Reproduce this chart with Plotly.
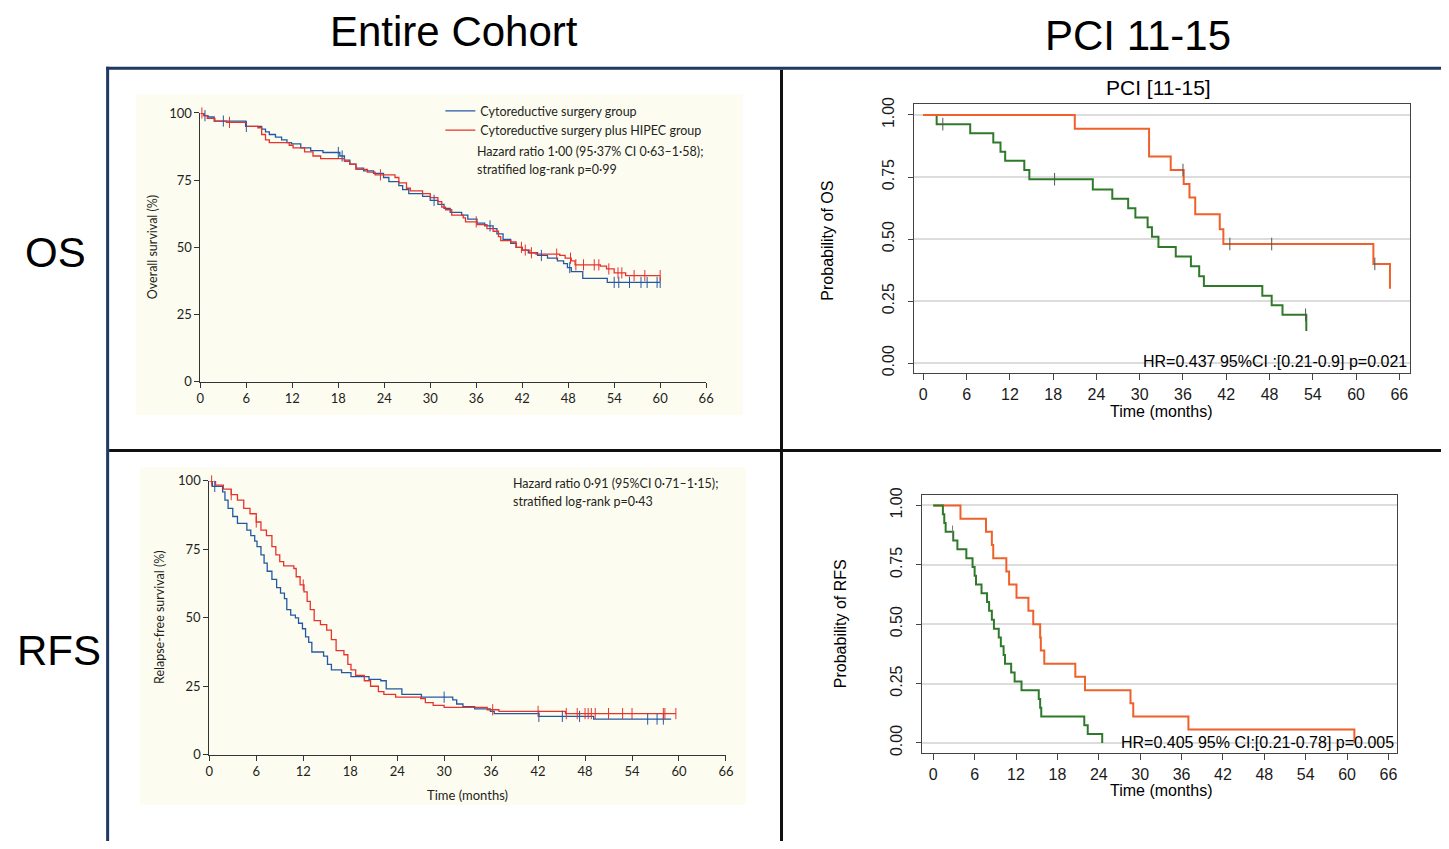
import bisect
import plotly.graph_objects as go

W, H = 1449, 849


def px(x):
    return x / W


def py(y):
    return 1 - y / H


# ---------------- DATA ----------------
months_ticks = [0, 6, 12, 18, 24, 30, 36, 42, 48, 54, 60, 66]
pct_ticks = [0, 25, 50, 75, 100]
prob_ticks = [0, 0.25, 0.5, 0.75, 1.0]
prob_tick_text = ["0.00", "0.25", "0.50", "0.75", "1.00"]

# Entire cohort - overall survival (%)
os_crs_t = [0, 0.5, 1.0, 1.8, 5.9, 8.0, 8.5, 9.0, 9.8, 10.6, 11.3, 11.9, 13.1, 14.4, 16.0, 18.2, 18.8,
            19.5, 20.3, 21.3, 22.6, 23.9, 24.6, 25.9, 26.4, 27.2, 29.0, 30.0, 31.0, 31.8, 32.6, 34.1,
            34.9, 36.1, 37.1, 38.2, 38.7, 39.5, 40.5, 41.2, 42.0, 42.8, 44.0, 45.3, 46.6, 47.4, 47.9,
            48.4, 49.9, 53.1, 60.0]
os_crs_s = [100, 99, 98.5, 97, 95, 94, 93, 92, 91, 90, 89, 88.5, 87, 86, 85.3, 84, 82.5,
            81, 79.5, 78.5, 77.5, 76, 74.5, 73, 71.5, 70, 69, 67.5, 66, 64.5, 63, 62,
            60.5, 59, 58, 57, 55, 53, 51.5, 50, 49, 48, 47, 46, 45, 44, 42.5,
            41, 38.5, 37, 37]
os_crs_cens = [0.6, 3.0, 6.0, 18.0, 18.5, 30.5, 37.8, 44.5, 48.2, 54.0, 54.6, 56.0, 57.5, 58.3, 59.6, 60.0]

os_hipec_t = [0, 0.4, 0.9, 1.9, 3.4, 6.0, 7.5, 8.0, 8.5, 9.0, 11.6, 12.1, 13.6, 14.7, 15.7, 18.8,
              19.5, 20.3, 21.8, 22.8, 25.4, 25.9, 26.9, 27.4, 29.0, 30.0, 31.0, 31.5, 32.0, 32.8,
              34.3, 34.6, 36.1, 37.4, 38.2, 38.9, 39.2, 40.5, 41.2, 42.0, 43.0, 43.8, 46.9, 47.6,
              48.4, 48.9, 52.2, 53.0, 54.0, 55.5, 60.0]
os_hipec_s = [100, 99, 98, 97, 96.5, 95, 94.5, 92, 90, 89, 88, 87, 85.5, 84, 83, 82,
              81, 79, 78, 77, 76, 74, 72, 71, 70, 68.5, 67, 65, 64, 62,
              61, 59.5, 58.5, 57, 56, 54, 52.5, 52, 50, 49, 48, 47.5, 47, 46,
              45, 43.5, 43, 42, 40.5, 39.5, 39.5]
os_hipec_cens = [0.2, 3.8, 23.5, 36.0, 41.9, 42.4, 43.2, 46.5, 48.3, 49.0, 50.0, 51.4, 52.0, 53.3,
                 54.5, 55.0, 56.6, 58.0, 60.0]

# Entire cohort - relapse-free survival (%)
rfs_crs_t = [0, 0.4, 1.7, 2.0, 2.4, 3.0, 3.6, 4.8, 5.3, 5.8, 6.1, 6.6, 7.0, 7.4, 8.0, 8.6, 9.1,
             9.6, 9.9, 10.4, 11.0, 11.4, 11.9, 12.3, 12.7, 13.1, 14.6, 15.1, 15.6, 16.9, 18.1, 20.4,
             21.9, 22.6, 24.6, 27.1, 31.1, 31.6, 32.4, 33.9, 35.9, 36.4, 42.1, 49.1, 59.0]
rfs_crs_s = [100, 98, 96, 93, 90, 87, 84.5, 82, 80, 78, 76, 73, 70, 67, 64, 61, 59,
             57, 53, 51, 50, 48, 46, 43, 41, 37.5, 36, 33, 31, 30, 28.5, 27.5,
             27, 24, 22, 21, 20, 18.5, 17.5, 16.7, 15.8, 15, 14, 13, 13]
rfs_crs_cens = [0.7, 30.0, 42.1, 45.1, 47.3, 56.0, 57.2, 58.0]

rfs_hipec_t = [0, 0.8, 1.8, 2.8, 3.6, 4.4, 5.2, 6.0, 6.6, 7.3, 8.0, 8.5, 9.0, 9.5, 10.8, 11.1,
               11.6, 12.1, 12.5, 12.9, 13.4, 14.2, 15.0, 15.6, 16.2, 17.2, 17.7, 18.1, 18.7, 19.8,
               20.6, 21.6, 22.3, 23.8, 27.0, 27.6, 28.6, 30.0, 35.5, 37.0, 45.5, 59.6]
rfs_hipec_s = [100, 98.5, 97, 95, 93, 90, 88, 85, 82, 80, 76, 73, 70.5, 69, 68, 65,
               62, 59.5, 56, 53, 49, 47.5, 45.5, 42, 38, 36.5, 33, 31, 29, 27,
               25, 23, 22, 21, 20.5, 19, 18, 17.3, 16.4, 15.8, 15, 15]
rfs_hipec_cens = [0.3, 2.8, 6.0, 12.0, 36.2, 42.0, 45.6, 47.0, 48.0, 48.4, 48.8, 49.3, 51.0, 52.8,
                  54.0, 58.0, 58.2, 59.6]

# PCI 11-15 - probability of OS
pci_os_green_t = [0, 1.85, 6.5, 9.7, 10.7, 11.35, 14.0, 14.7, 23.5, 26.2, 28.4, 29.4, 31.1, 31.7,
                  32.6, 35.0, 37.1, 38.25, 38.9, 47.0, 48.3, 49.8, 53.1]
pci_os_green_s = [1.0, 0.963, 0.926, 0.889, 0.852, 0.815, 0.778, 0.741, 0.70, 0.662, 0.624, 0.587,
                  0.548, 0.509, 0.468, 0.43, 0.39, 0.35, 0.311, 0.272, 0.233, 0.195, 0.13]
pci_os_green_cens = [2.7, 18.2, 53.0]

pci_os_orange_t = [0, 21.0, 31.3, 34.3, 36.1, 36.9, 37.7, 41.1, 41.6, 62.4, 64.7]
pci_os_orange_s = [1.0, 0.944, 0.833, 0.778, 0.722, 0.667, 0.60, 0.54, 0.48, 0.40, 0.30]
pci_os_orange_cens = [36.0, 42.5, 48.3, 62.6]

# PCI 11-15 - probability of RFS
pci_rfs_green_t = [0, 1.4, 1.6, 1.8, 2.9, 3.5, 4.8, 5.7, 6.0, 6.2, 7.0, 7.8, 8.1, 8.5, 8.8, 9.5,
                   9.8, 10.2, 10.4, 11.3, 11.8, 12.8, 15.3, 15.5, 15.66, 21.9, 22.4, 24.5]
pci_rfs_green_s = [1.0, 0.963, 0.926, 0.889, 0.852, 0.815, 0.778, 0.741, 0.704, 0.667, 0.630, 0.593,
                   0.556, 0.519, 0.481, 0.444, 0.407, 0.370, 0.333, 0.296, 0.259, 0.222, 0.185,
                   0.148, 0.111, 0.074, 0.037, 0.0]
pci_rfs_green_cens = [2.8]

pci_rfs_orange_t = [0, 3.95, 7.65, 8.5, 8.7, 10.6, 11.0, 12.07, 13.8, 14.5, 15.5, 15.6, 16.1, 20.6,
                    22.0, 28.6, 29.0, 37.0, 61.06]
pci_rfs_orange_s = [1.0, 0.944, 0.889, 0.833, 0.778, 0.722, 0.667, 0.611, 0.556, 0.5, 0.444, 0.389,
                    0.333, 0.278, 0.222, 0.167, 0.111, 0.056, 0.0]

# ---------------- STYLE ----------------
BLUE = "#2359a3"
RED = "#e8322c"
GREEN = "#2f7a2a"
ORANGE = "#f0602a"
NAVY = "#203864"
CREAM = "#fdfcf1"
LANCET = "Lato, 'Liberation Sans', sans-serif"
RFONT = "'Liberation Sans', Arial, Helvetica, sans-serif"
TXT = "#231f20"


def step_at(ts, ss, t):
    i = bisect.bisect_right(ts, t) - 1
    return ss[max(i, 0)]


fig = go.Figure()


def km(ts, ss, color, width, xa, ya, name=None, legend=False):
    fig.add_trace(go.Scatter(x=ts, y=ss, mode="lines", line_shape="hv",
                             line=dict(color=color, width=width), xaxis=xa, yaxis=ya,
                             name=name, showlegend=legend, hoverinfo="skip"))


def cens(ts, ss, ct, color, size, xa, ya):
    fig.add_trace(go.Scatter(x=ct, y=[step_at(ts, ss, c) for c in ct], mode="markers",
                             marker=dict(symbol="line-ns", size=size, color=color,
                                         line=dict(color=color, width=1)),
                             xaxis=xa, yaxis=ya, showlegend=False, hoverinfo="skip",
                             cliponaxis=False))


# Top-left: OS entire cohort
km(os_crs_t, os_crs_s, BLUE, 1.3, "x", "y", "Cytoreductive surgery group", True)
km(os_hipec_t, os_hipec_s, RED, 1.3, "x", "y", "Cytoreductive surgery plus HIPEC group", True)
cens(os_crs_t, os_crs_s, os_crs_cens, BLUE, 8, "x", "y")
cens(os_hipec_t, os_hipec_s, os_hipec_cens, RED, 8, "x", "y")

# Top-right: OS PCI 11-15
km(pci_os_green_t, pci_os_green_s, GREEN, 2, "x2", "y2")
km(pci_os_orange_t, pci_os_orange_s, ORANGE, 2, "x2", "y2")
cens(pci_os_green_t, pci_os_green_s, pci_os_green_cens, "#555555", 9, "x2", "y2")
cens(pci_os_orange_t, pci_os_orange_s, pci_os_orange_cens, "#555555", 9, "x2", "y2")

# Bottom-left: RFS entire cohort
km(rfs_crs_t, rfs_crs_s, BLUE, 1.3, "x3", "y3")
km(rfs_hipec_t, rfs_hipec_s, RED, 1.3, "x3", "y3")
cens(rfs_crs_t, rfs_crs_s, rfs_crs_cens, BLUE, 8, "x3", "y3")
cens(rfs_hipec_t, rfs_hipec_s, rfs_hipec_cens, RED, 8, "x3", "y3")

# Bottom-right: RFS PCI 11-15
km(pci_rfs_orange_t, pci_rfs_orange_s, ORANGE, 2, "x4", "y4")
km(pci_rfs_green_t, pci_rfs_green_s, GREEN, 2, "x4", "y4")
cens(pci_rfs_green_t, pci_rfs_green_s, pci_rfs_green_cens, "#777777", 9, "x4", "y4")


def lancet_x(dom, anchor):
    return dict(domain=dom, anchor=anchor, range=[0, 66], tickvals=months_ticks, ticks="outside",
                ticklen=5, tickcolor="#333", showline=True, linecolor="#333", linewidth=1,
                showgrid=False, zeroline=False, tickfont=dict(family=LANCET, size=13, color=TXT))


def lancet_y(dom, anchor):
    return dict(domain=dom, anchor=anchor, range=[0, 100], tickvals=pct_ticks, ticks="outside",
                ticklen=5, tickcolor="#333", showline=True, linecolor="#333", linewidth=1,
                showgrid=False, zeroline=False, tickfont=dict(family=LANCET, size=13, color=TXT))


def r_x(dom, rng, anchor):
    return dict(domain=dom, anchor=anchor, range=rng, tickvals=months_ticks, ticks="outside",
                ticklen=6, tickcolor="#444", showline=True, mirror=True, linecolor="#444",
                linewidth=1, showgrid=False, zeroline=False, ticklabelstandoff=1,
                tickfont=dict(family=RFONT, size=16, color="#1a1a1a"))


def r_y(dom, rng, anchor):
    return dict(domain=dom, anchor=anchor, range=rng, tickvals=prob_ticks, ticktext=prob_tick_text,
                tickangle=-90, ticks="outside", ticklen=5, tickcolor="#444", showline=True,
                mirror=True, linecolor="#444", linewidth=1, showgrid=True, gridcolor="#dcdcdc",
                gridwidth=2, zeroline=False, ticklabelstandoff=8,
                tickfont=dict(family=RFONT, size=16, color="#1a1a1a"))


def xr(a, b, a_px, b_px, lo_px, hi_px):
    k = (b - a) / (b_px - a_px)
    return [a + (lo_px - a_px) * k, a + (hi_px - a_px) * k]


fig.update_layout(
    width=W, height=H, margin=dict(l=0, r=0, t=0, b=0),
    paper_bgcolor="white", plot_bgcolor="rgba(0,0,0,0)",
    xaxis=lancet_x([px(198), px(708)], "y"),
    yaxis=lancet_y([py(381), py(107)], "x"),
    xaxis3=lancet_x([px(207), px(728)], "y3"),
    yaxis3=lancet_y([py(761), py(482)], "x3"),
    xaxis2=r_x([px(918), px(1418)], xr(0, 66, 927, 1407, 918, 1418), "y2"),
    yaxis2=r_y([py(372), py(98)], xr(0, 1, 362, 109, 372, 98), "x2"),
    xaxis4=r_x([px(926), px(1405)], xr(0, 66, 937, 1396, 926, 1405), "y4"),
    yaxis4=r_y([py(759), py(496)], xr(0, 1, 749, 507, 759, 496), "x4"),
    legend=dict(x=px(440), y=py(90), xanchor="left", yanchor="top", bgcolor="rgba(0,0,0,0)",
                font=dict(family=LANCET, size=12.5, color=TXT), tracegroupgap=0, itemwidth=30),
    showlegend=True,
)

shapes = [
    dict(type="rect", xref="paper", yref="paper", x0=px(133), x1=px(745), y0=py(415), y1=py(88),
         fillcolor=CREAM, line=dict(width=0), layer="below"),
    dict(type="rect", xref="paper", yref="paper", x0=px(137), x1=px(748), y0=py(812), y1=py(468),
         fillcolor=CREAM, line=dict(width=0), layer="below"),
    dict(type="line", xref="paper", yref="paper", x0=px(103), x1=1, y0=py(61.5), y1=py(61.5),
         line=dict(color=NAVY, width=3)),
    dict(type="line", xref="paper", yref="paper", x0=px(104.5), x1=px(104.5), y0=py(60), y1=0,
         line=dict(color=NAVY, width=3)),
    dict(type="line", xref="paper", yref="paper", x0=px(784), x1=px(784), y0=py(63), y1=0,
         line=dict(color="#111", width=3)),
    dict(type="line", xref="paper", yref="paper", x0=px(106), x1=1, y0=py(451), y1=py(451),
         line=dict(color="#111", width=3)),
]
fig.update_layout(shapes=shapes)


def ann(text, x, y, size, family=RFONT, color="black", xanchor="center", angle=0, yanchor="middle"):
    return dict(text=text, x=px(x), y=py(y), xref="paper", yref="paper", showarrow=False,
                font=dict(family=family, size=size, color=color), xanchor=xanchor,
                yanchor=yanchor, textangle=angle)


annotations = [
    ann("Entire Cohort", 454, 24, 42),
    ann("PCI 11-15", 1143, 28, 42),
    ann("OS", 52, 249, 42),
    ann("RFS", 55, 655, 42),
    ann("PCI [11-15]", 1164, 81, 21),
    ann("Overall survival (%)", 150, 244, 12.5, LANCET, TXT, angle=-90),
    ann("Relapse-free survival (%)", 157, 621, 12.5, LANCET, TXT, angle=-90),
    ann("Time (months)", 467, 802, 13, LANCET, TXT),
    ann("Hazard ratio 1·00 (95·37% CI 0·63–1·58);", 475, 146, 12.5, LANCET, TXT, xanchor="left"),
    ann("stratified log-rank p=0·99", 475, 165, 12.5, LANCET, TXT, xanchor="left"),
    ann("Hazard ratio 0·91 (95%CI 0·71–1·15);", 511, 485, 12.5, LANCET, TXT, xanchor="left"),
    ann("stratified log-rank p=0·43", 511, 503, 12.5, LANCET, TXT, xanchor="left"),
    ann("Probability of OS", 830, 237, 16, angle=-90),
    ann("Probability of RFS", 843, 628, 16, angle=-90),
    ann("Time (months)", 1167, 411, 16),
    ann("Time (months)", 1167, 798, 16),
    ann("HR=0.437 95%CI :[0.21-0.9] p=0.021", 1417, 360, 16, xanchor="right"),
    ann("HR=0.405 95% CI:[0.21-0.78] p=0.005", 1404, 749, 16, xanchor="right"),
]
fig.update_layout(annotations=annotations)

fig.write_html("out.html")
